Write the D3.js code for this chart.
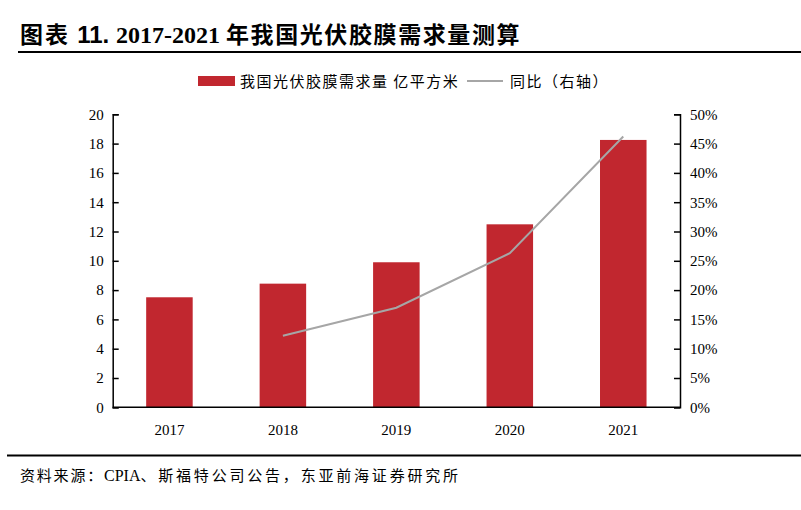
<!DOCTYPE html>
<html>
<head>
<meta charset="utf-8">
<script src="https://cdn.jsdelivr.net/npm/d3@7"></script>
<style>
  body { margin: 0; background: #fff; }
  svg { display: block; }
</style>
</head>
<body>
<div id="chart"></div>
<script>
// donnees
const years = ["2017", "2018", "2019", "2020", "2021"];
const demande = [7.51, 8.44, 9.9, 12.49, 18.25];        // 亿平方米
const yoyYears = ["2018", "2019", "2020", "2021"];
const yoy = [0.122, 0.170, 0.263, 0.462];                // 同比
const leftTicks = [0, 2, 4, 6, 8, 10, 12, 14, 16, 18, 20];
const rightTicks = [0, 0.05, 0.1, 0.15, 0.2, 0.25, 0.3, 0.35, 0.4, 0.45, 0.5];

const W = 801, H = 510;
const LEFT = 112.7, RIGHT = 680, TOP = 114.3, BOTTOM = 407.3;
const SERIF = "'Liberation Serif', 'Times New Roman', serif";
const CJK = "'Noto Sans CJK SC', sans-serif";

const svg = d3.select("#chart").append("svg")
  .attr("width", W).attr("height", H);

// titre
const title = svg.append("text")
  .attr("x", 20).attr("y", 43)
  .attr("font-size", 23).attr("font-weight", "bold").attr("fill", "#000");
title.append("tspan").attr("font-family", CJK).attr("letter-spacing", 2).text("图表 ");
title.append("tspan").attr("font-family", "'Liberation Sans', Arial, sans-serif").attr("font-size", 24).text("11. ");
title.append("tspan").attr("font-family", SERIF).attr("font-size", 24).text("2017-2021 ");
title.append("tspan").attr("font-family", CJK).attr("letter-spacing", 1.6).text("年我国光伏胶膜需求量测算");

svg.append("line").attr("x1", 18).attr("x2", W).attr("y1", 52).attr("y2", 52)
  .attr("stroke", "#000").attr("stroke-width", 2);

// pied
svg.append("line").attr("x1", 7).attr("x2", W).attr("y1", 455.5).attr("y2", 455.5)
  .attr("stroke", "#000").attr("stroke-width", 2);
const foot = svg.append("text").attr("x", 20).attr("y", 481)
  .attr("font-size", 15).attr("fill", "#000");
foot.append("tspan").attr("font-family", CJK).attr("letter-spacing", 1.8).text("资料来源：");
foot.append("tspan").attr("font-family", SERIF).attr("font-size", 16).text("CPIA");
foot.append("tspan").attr("font-family", CJK).attr("letter-spacing", 2.8).text("、斯福特公司公告，东亚前海证券研究所");

// echelles
const x = d3.scaleBand().domain(years).range([LEFT, RIGHT])
  .paddingInner(0.59).paddingOuter(0.295);
const y = d3.scaleLinear().domain([0, 20]).range([BOTTOM, TOP]);
const y2 = d3.scaleLinear().domain([0, 0.5]).range([BOTTOM, TOP]);

// barres
svg.append("g").selectAll("rect")
  .data(years.map((d, i) => ({ year: d, v: demande[i] })))
  .enter().append("rect")
  .attr("x", d => x(d.year))
  .attr("y", d => y(d.v))
  .attr("width", x.bandwidth())
  .attr("height", d => y(0) - y(d.v))
  .attr("fill", "#C1272F");

// courbe
const line = d3.line()
  .x(d => x(d.year) + x.bandwidth() / 2)
  .y(d => y2(d.v));
svg.append("path")
  .datum(yoyYears.map((d, i) => ({ year: d, v: yoy[i] })))
  .attr("d", line)
  .attr("fill", "none")
  .attr("stroke", "#A6A6A6")
  .attr("stroke-width", 2);

// axes
const axisL = svg.append("g")
  .attr("transform", `translate(${LEFT},0)`)
  .call(d3.axisRight(y).tickValues(leftTicks).tickSize(6).tickFormat(d3.format("d")));
axisL.selectAll("text").attr("x", -9).attr("text-anchor", "end");

const axisR = svg.append("g")
  .attr("transform", `translate(${RIGHT},0)`)
  .call(d3.axisLeft(y2).tickValues(rightTicks).tickSize(6).tickFormat(d3.format(".0%")));
axisR.selectAll("text").attr("x", 10).attr("text-anchor", "start");

const axisX = svg.append("g")
  .attr("transform", `translate(0,${BOTTOM})`)
  .call(d3.axisBottom(x).tickSize(0).tickPadding(17));
axisX.select(".domain").attr("d", `M${LEFT},0H${RIGHT}`);

[axisL, axisR, axisX].forEach(g => {
  g.select(".domain").attr("stroke", "#000").attr("stroke-width", 1.5);
  g.selectAll(".tick line").attr("stroke", "#000").attr("stroke-width", 1.5);
  g.selectAll("text").attr("font-family", SERIF).attr("font-size", 15).attr("fill", "#000");
});

// legende
const leg = svg.append("g");
leg.append("rect").attr("x", 198).attr("y", 76).attr("width", 37).attr("height", 10)
  .attr("fill", "#C1272F");
leg.append("text").attr("x", 240).attr("y", 86.5)
  .attr("font-family", CJK).attr("font-size", 15).attr("letter-spacing", 1.5).attr("fill", "#000")
  .text("我国光伏胶膜需求量 亿平方米");
leg.append("line").attr("x1", 467).attr("x2", 503).attr("y1", 81).attr("y2", 81)
  .attr("stroke", "#A6A6A6").attr("stroke-width", 2);
leg.append("text").attr("x", 510).attr("y", 86.5)
  .attr("font-family", CJK).attr("font-size", 15).attr("letter-spacing", 1.5).attr("fill", "#000")
  .text("同比（右轴）");
</script>
</body>
</html>
